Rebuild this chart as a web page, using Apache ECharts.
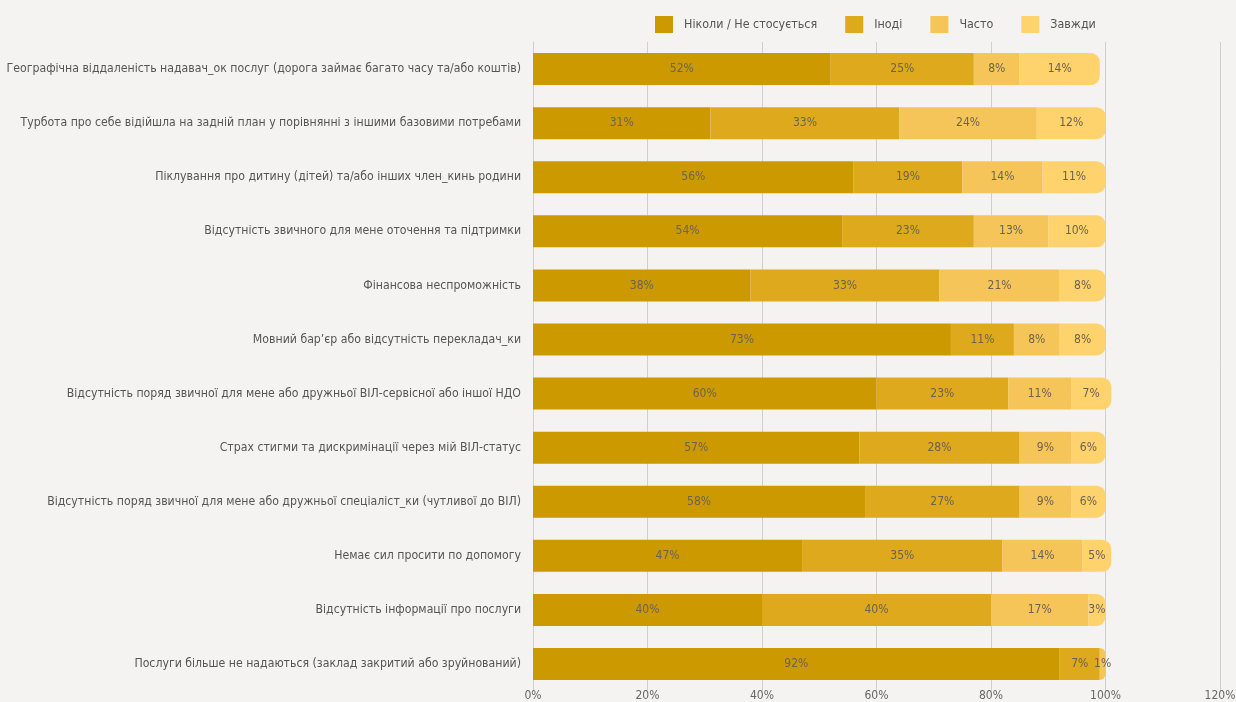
<!DOCTYPE html>
<html><head><meta charset="utf-8">
<script src="https://cdn.jsdelivr.net/npm/echarts@6/dist/echarts.min.js"></script>
<style>html,body{margin:0;padding:0;background:#f4f3f1;}#c{width:1236px;height:702px;}</style>
</head><body><div id="c"></div>
<script>
const categories = [
  "Географічна віддаленість надавач_ок послуг (дорога займає багато часу та/або коштів)",
  "Турбота про себе відійшла на задній план у порівнянні з іншими базовими потребами",
  "Піклування про дитину (дітей) та/або інших член_кинь родини",
  "Відсутність звичного для мене оточення та підтримки",
  "Фінансова неспроможність",
  "Мовний бар’єр або відсутність перекладач_ки",
  "Відсутність поряд звичної для мене або дружньої ВІЛ-сервісної або іншої НДО",
  "Страх стигми та дискримінації через мій ВІЛ-статус",
  "Відсутність поряд звичної для мене або дружньої спеціаліст_ки (чутливої до ВІЛ)",
  "Немає сил просити по допомогу",
  "Відсутність інформації про послуги",
  "Послуги більше не надаються (заклад закритий або зруйнований)"
];
const seriesNames = ["Ніколи / Не стосується", "Іноді", "Часто", "Завжди"];
const never     = [52, 31, 56, 54, 38, 73, 60, 57, 58, 47, 40, 92];
const sometimes = [25, 33, 19, 23, 33, 11, 23, 28, 27, 35, 40, 7];
const often     = [8, 24, 14, 13, 21, 8, 11, 9, 9, 14, 17, 1];
const always    = [14, 12, 11, 10, 8, 8, 7, 6, 6, 5, 3, 0];
const xTicks = [0, 20, 40, 60, 80, 100, 120];
const colors = ["#CC9900", "#DEA91C", "#F5C55A", "#FED26C"];

const allSeries = [never, sometimes, often, always];
const FONT = "'Liberation Sans Narrow','DejaVu Sans Condensed',sans-serif";

const series = allSeries.map((arr, si) => ({
  name: seriesNames[si],
  type: 'bar',
  stack: 'total',
  barWidth: 32,
  itemStyle: { color: colors[si] },
  label: {
    show: true,
    position: 'inside',
    color: '#6b6350',
    fontFamily: FONT,
    fontSize: 12,
    formatter: p => p.value > 0 ? p.value + '%' : ''
  },
  data: arr.map((v, ci) => {
    let last = -1;
    for (let k = 0; k < allSeries.length; k++) if (allSeries[k][ci] > 0) last = k;
    const item = { value: v };
    if (si === last) item.itemStyle = { borderRadius: [0, 9, 9, 0] };
    return item;
  })
}));

const chart = echarts.init(document.getElementById('c'));
chart.setOption({
  backgroundColor: '#f4f3f1',
  animation: false,
  color: colors,
  legend: {
    top: 11,
    left: 650,
    itemWidth: 18,
    itemHeight: 17,
    itemGap: 28,
    icon: 'rect',
    textStyle: { fontFamily: FONT, fontSize: 12.4, color: '#555', padding: [0, 0, 0, 6] },
    data: seriesNames
  },
  grid: { left: 533, right: 16, top: 42, bottom: 11, containLabel: false, outerBoundsMode: 'none' },
  xAxis: {
    type: 'value',
    min: 0, max: 120, interval: 20,
    axisLine: { show: false },
    axisTick: { show: false },
    splitLine: { show: true, lineStyle: { color: '#cfcfcf', width: 1 } },
    axisLabel: { formatter: v => xTicks.includes(v) ? v + '%' : '', fontFamily: FONT, fontSize: 12, color: '#666', margin: -1 }
  },
  yAxis: {
    type: 'category',
    inverse: true,
    data: categories,
    axisLine: { show: true, lineStyle: { color: '#cfcfcf' } },
    axisTick: { show: false },
    axisLabel: { fontFamily: FONT, fontSize: 12.2, color: '#555', margin: 12 }
  },
  series: series
});
</script>
</body></html>
